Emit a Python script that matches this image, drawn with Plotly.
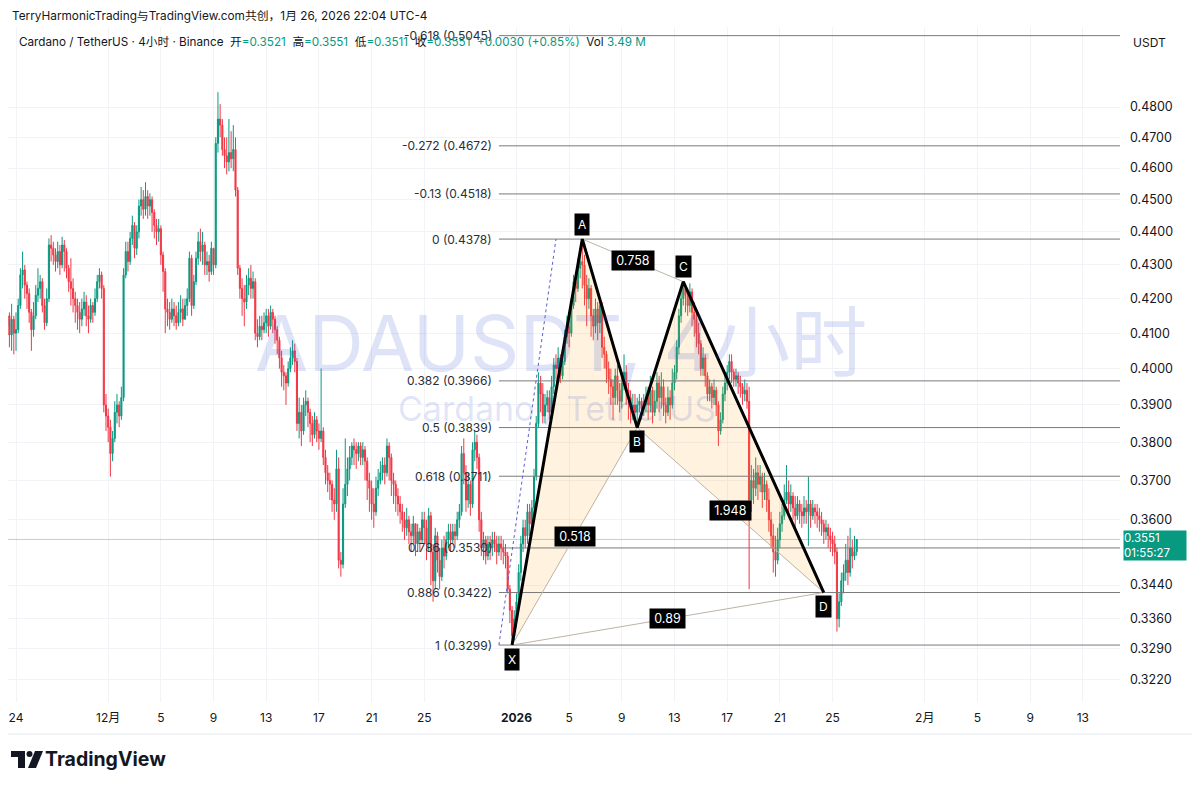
import math
import pandas as pd
import plotly.graph_objects as go

# ---------------- DATA ----------------
# ADA/USDT 4h candles, Nov 23 08:00 -> Jan 26 20:00 (UTC-4); prices in units of 1e-4
candle_start = "2025-11-23 08:00"
first_open_e4 = 4120

close_e4 = [
    4150, 4095, 4140, 4100,
    4110, 4180, 4270, 4285, 4240, 4215,
    4160, 4110, 4150, 4210, 4230, 4250,
    4180, 4130, 4200, 4360, 4350, 4330,
    4310, 4340, 4300, 4360, 4340, 4290,
    4250, 4230, 4200, 4180, 4160, 4140,
    4170, 4190, 4150, 4140, 4180, 4160,
    4200, 4250, 4270, 4230, 3900, 3870,
    3840, 3770, 3810, 3880, 3900, 3870,
    3920, 4270, 4340, 4310, 4380, 4420,
    4350, 4400, 4480, 4500, 4470, 4510,
    4480, 4500, 4460, 4420, 4400, 4410,
    4330, 4280, 4170, 4160, 4140, 4170,
    4150, 4130, 4160, 4170, 4140, 4180,
    4200, 4320, 4180, 4250, 4320, 4370,
    4340, 4360, 4300, 4310, 4280, 4350,
    4300, 4680, 4760, 4740, 4660, 4640,
    4620, 4650, 4630, 4660, 4530, 4290,
    4230, 4200, 4190, 4240, 4260, 4230,
    4250, 4100, 4090, 4120, 4110, 4130,
    4150, 4120, 4160, 4140, 4110, 4080,
    4030, 3990, 3980, 3960, 4000, 4030,
    4050, 4020, 3850, 3880, 3830, 3900,
    3910, 3880, 3850, 3820, 3860, 3830,
    3810, 3830, 3760, 3720, 3700, 3690,
    3650, 3640, 3730, 3500, 3490, 3640,
    3690, 3730, 3760, 3790, 3780, 3770,
    3790, 3760, 3780, 3750, 3700, 3680,
    3640, 3620, 3680, 3700, 3720, 3740,
    3720, 3790, 3760, 3700, 3690, 3660,
    3640, 3620, 3600, 3580, 3600, 3570,
    3560, 3590, 3540, 3570, 3550, 3600,
    3580, 3540, 3610, 3520, 3450, 3560,
    3500, 3460, 3530, 3510, 3550, 3570,
    3550, 3570, 3560, 3600, 3620, 3770,
    3720, 3650, 3690, 3640, 3780, 3800,
    3760, 3600, 3530, 3550, 3510, 3540,
    3530, 3550, 3540, 3520, 3540, 3530,
    3520, 3510, 3430, 3380, 3320, 3360,
    3400, 3470, 3540, 3580, 3560, 3620,
    3590, 3630, 3710, 3850, 3960, 3930,
    3870, 3900, 3920, 3880, 3950, 4010,
    4000, 4030, 3980, 4020, 4090, 4120,
    4100, 4180, 4250, 4230, 4290, 4310,
    4300, 4240, 4200, 4230, 4150, 4120,
    4170, 4130, 4180, 4060, 4040, 4000,
    3970, 3950, 3920, 3980, 3940, 3910,
    3960, 3990, 3940, 3920, 3890, 3900,
    3880, 3900, 3910, 3890, 3900, 3920,
    3900, 3940, 3880, 3910, 3960, 3920,
    3950, 3900, 3880, 3920, 3900, 3960,
    3990, 4060, 4150, 4200, 4230, 4210,
    4180, 4220, 4160, 4140, 4100, 4070,
    4000, 4030, 3980, 3930, 3950, 3920,
    3940, 3900, 3830, 3860, 3930, 3960,
    3990, 4020, 3990, 3970, 3980, 3960,
    3950, 3930, 3940, 3910, 3650, 3700,
    3680, 3720, 3690, 3710, 3670, 3690,
    3650, 3600, 3560, 3520, 3500, 3550,
    3590, 3610, 3650, 3670, 3640, 3660,
    3630, 3610, 3640, 3620, 3610, 3630,
    3620, 3640, 3610, 3630, 3620, 3610,
    3600, 3590, 3570, 3580, 3560, 3550,
    3540, 3520, 3360, 3400, 3450, 3470,
    3500, 3470, 3530, 3510, 3521, 3551,
]

high_e4 = [
    4175, 4160, 4185, 4150,
    4160, 4200, 4290, 4340, 4300, 4250,
    4230, 4170, 4190, 4240, 4290, 4270,
    4260, 4200, 4230, 4380, 4390, 4370,
    4350, 4370, 4360, 4385, 4375, 4350,
    4300, 4320, 4260, 4220, 4200, 4190,
    4200, 4220, 4210, 4180, 4200, 4190,
    4230, 4270, 4290, 4280, 4240, 3930,
    3890, 3860, 3830, 3910, 3930, 3910,
    3950, 4290, 4370, 4370, 4400, 4450,
    4430, 4420, 4500, 4540, 4530, 4555,
    4530, 4520, 4510, 4470, 4440, 4440,
    4420, 4340, 4290, 4200, 4190, 4200,
    4190, 4180, 4190, 4210, 4200, 4200,
    4230, 4340, 4330, 4270, 4340, 4400,
    4410, 4400, 4370, 4340, 4330, 4370,
    4350, 4700, 4850, 4810, 4760, 4700,
    4700, 4760, 4720, 4740, 4700, 4540,
    4300, 4260, 4240, 4270, 4290, 4300,
    4280, 4260, 4140, 4150, 4150, 4160,
    4170, 4170, 4180, 4170, 4150, 4120,
    4090, 4050, 4010, 3990, 4020, 4060,
    4080, 4070, 4030, 3920, 3900, 3920,
    3940, 3920, 3890, 3870, 3880, 3870,
    3850, 4000, 3840, 3780, 3740, 3720,
    3700, 3680, 3780, 3760, 3520, 3680,
    3810, 3760, 3790, 3800, 3810, 3800,
    3800, 3800, 3800, 3790, 3760, 3720,
    3700, 3680, 3710, 3730, 3750, 3760,
    3760, 3810, 3800, 3770, 3720, 3700,
    3680, 3660, 3640, 3620, 3630, 3610,
    3590, 3610, 3590, 3590, 3580, 3620,
    3620, 3600, 3630, 3620, 3540, 3580,
    3570, 3530, 3550, 3560, 3570, 3590,
    3590, 3590, 3590, 3620, 3640, 3790,
    3810, 3740, 3720, 3700, 3800, 3830,
    3820, 3770, 3620, 3570, 3560, 3560,
    3560, 3570, 3570, 3560, 3560, 3560,
    3550, 3540, 3520, 3440, 3390, 3380,
    3420, 3490, 3560, 3600, 3600, 3640,
    3640, 3650, 3730, 3870, 3990, 3980,
    3960, 3930, 3940, 3940, 3980, 4030,
    4040, 4060, 4040, 4050, 4110, 4150,
    4150, 4200, 4270, 4280, 4320, 4350,
    4378, 4330, 4270, 4260, 4240, 4170,
    4200, 4190, 4200, 4190, 4090, 4050,
    4020, 4000, 3970, 4000, 4010, 3960,
    3990, 4040, 4010, 3960, 3940, 3930,
    3930, 3920, 3930, 3920, 3930, 3950,
    3950, 3980, 3950, 3940, 3990, 3980,
    3990, 3970, 3920, 3950, 3940, 4000,
    4010, 4080, 4170, 4230, 4250, 4240,
    4230, 4245, 4230, 4190, 4170, 4130,
    4080, 4060, 4040, 3990, 3970, 3960,
    3970, 3950, 3910, 3880, 3950, 3980,
    4010, 4040, 4040, 4000, 4000, 3990,
    3980, 3960, 3970, 3960, 3950, 3740,
    3730, 3760, 3740, 3740, 3720, 3720,
    3700, 3680, 3620, 3590, 3560, 3580,
    3620, 3640, 3690, 3740, 3700, 3690,
    3670, 3660, 3660, 3650, 3640, 3660,
    3650, 3710, 3650, 3650, 3640, 3640,
    3630, 3620, 3600, 3600, 3590, 3580,
    3570, 3560, 3530, 3420, 3470, 3490,
    3540, 3560, 3580, 3550, 3560, 3551,
]

low_e4 = [
    4080, 4060, 4050, 4040,
    4050, 4100, 4170, 4230, 4200, 4170,
    4130, 4050, 4090, 4140, 4190, 4200,
    4160, 4110, 4120, 4190, 4310, 4300,
    4280, 4290, 4270, 4290, 4280, 4260,
    4220, 4180, 4160, 4130, 4110, 4100,
    4120, 4150, 4120, 4100, 4130, 4130,
    4150, 4190, 4230, 4200, 3880, 3830,
    3800, 3710, 3750, 3800, 3850, 3840,
    3860, 3910, 4260, 4280, 4300, 4360,
    4320, 4330, 4380, 4450, 4440, 4450,
    4440, 4450, 4400, 4380, 4360, 4370,
    4300, 4220, 4100, 4120, 4110, 4130,
    4120, 4110, 4120, 4130, 4120, 4140,
    4150, 4190, 4150, 4170, 4240, 4300,
    4310, 4300, 4270, 4270, 4250, 4270,
    4270, 4290, 4650, 4700, 4640, 4600,
    4580, 4590, 4600, 4590, 4510, 4270,
    4200, 4150, 4120, 4170, 4210, 4200,
    4200, 4080, 4060, 4080, 4080, 4100,
    4100, 4090, 4110, 4100, 4070, 4040,
    4000, 3950, 3940, 3900, 3950, 3990,
    4010, 3990, 3830, 3810, 3790, 3820,
    3870, 3840, 3800, 3790, 3810, 3800,
    3780, 3800, 3740, 3690, 3670, 3650,
    3620, 3600, 3620, 3480, 3460, 3480,
    3630, 3660, 3700, 3740, 3740, 3730,
    3750, 3740, 3740, 3700, 3650, 3620,
    3600, 3580, 3610, 3660, 3690, 3700,
    3690, 3710, 3700, 3660, 3640, 3620,
    3610, 3590, 3570, 3550, 3560, 3540,
    3520, 3540, 3510, 3520, 3520, 3540,
    3540, 3500, 3520, 3440, 3400, 3430,
    3470, 3430, 3450, 3480, 3500, 3530,
    3520, 3540, 3530, 3550, 3580, 3610,
    3690, 3620, 3630, 3610, 3630, 3750,
    3730, 3570, 3510, 3500, 3490, 3500,
    3500, 3510, 3520, 3490, 3510, 3500,
    3490, 3480, 3420, 3350, 3299, 3310,
    3340, 3380, 3450, 3520, 3530, 3540,
    3560, 3570, 3600, 3700, 3840, 3880,
    3850, 3850, 3880, 3860, 3870, 3930,
    3970, 3990, 3960, 3970, 4010, 4070,
    4060, 4090, 4170, 4190, 4220, 4260,
    4230, 4180, 4120, 4170, 4090, 4080,
    4100, 4080, 4100, 4030, 4000, 3960,
    3930, 3900, 3860, 3900, 3900, 3880,
    3890, 3940, 3900, 3860, 3850, 3860,
    3860, 3839, 3880, 3860, 3870, 3880,
    3860, 3880, 3850, 3870, 3890, 3880,
    3890, 3870, 3850, 3870, 3860, 3890,
    3940, 3970, 4040, 4130, 4180, 4160,
    4150, 4160, 4120, 4090, 4060, 4040,
    3980, 3980, 3950, 3910, 3910, 3890,
    3900, 3870, 3790, 3820, 3850, 3910,
    3940, 3970, 3960, 3950, 3950, 3930,
    3920, 3900, 3910, 3890, 3430, 3620,
    3640, 3660, 3650, 3670, 3630, 3650,
    3620, 3570, 3530, 3470, 3460, 3490,
    3530, 3570, 3600, 3640, 3610, 3620,
    3600, 3580, 3600, 3590, 3580, 3590,
    3590, 3535, 3580, 3600, 3590, 3580,
    3570, 3560, 3540, 3550, 3530, 3520,
    3510, 3490, 3330, 3340, 3390, 3420,
    3450, 3440, 3460, 3480, 3500, 3511,
]

# Fibonacci retracement (drawn from X to A)
fib_levels = ["-0.618", "-0.272", "-0.13", "0", "0.382", "0.5", "0.618", "0.786", "0.886", "1"]
fib_prices = [0.5045, 0.4672, 0.4518, 0.4378, 0.3966, 0.3839, 0.3711, 0.3530, 0.3422, 0.3299]
fib_start = "2025-12-30 16:00"
fib_trend_times = ["2025-12-30 16:00", "2026-01-04 00:00"]
fib_trend_prices = [0.3299, 0.4378]

# XABCD harmonic pattern
pattern_labels = ["X", "A", "B", "C", "D"]
pattern_times = ["2025-12-31 16:00", "2026-01-06 00:00", "2026-01-10 04:00",
                 "2026-01-13 16:00", "2026-01-24 08:00"]
pattern_prices = [0.3299, 0.4378, 0.3839, 0.4250, 0.3422]
ratio_pairs = [("X", "B"), ("A", "C"), ("B", "D"), ("X", "D")]
ratio_labels = ["0.518", "0.758", "1.948", "0.89"]

# Axes
x_range = ["2025-11-23 09:25", "2026-02-15 19:50"]
y_range = [0.31706, 0.50755]
date_ticks = ["2025-11-24", "2025-12-01", "2025-12-05", "2025-12-09", "2025-12-13",
              "2025-12-17", "2025-12-21", "2025-12-25", "2026-01-01", "2026-01-05",
              "2026-01-09", "2026-01-13", "2026-01-17", "2026-01-21", "2026-01-25",
              "2026-02-01", "2026-02-05", "2026-02-09", "2026-02-13"]
date_tick_text = ["24", "12月", "5", "9", "13", "17", "21", "25", "<b>2026</b>", "5",
                  "9", "13", "17", "21", "25", "2月", "5", "9", "13"]
price_ticks = [0.48, 0.47, 0.46, 0.45, 0.44, 0.43, 0.42, 0.41, 0.40, 0.39, 0.38,
               0.37, 0.36, 0.344, 0.336, 0.329, 0.322]

last_price = 0.3551
countdown = "01:55:27"

# ---------------- BUILD ----------------
UP = "#089981"
DOWN = "#f23645"
FONT = "Inter, 'Noto Sans CJK SC', sans-serif"
OFF = 8                      # page body margin of the html page
W, H = 1200 - OFF, 788 - OFF
ML, MR, MT, MB = 0, 80, 27 - OFF, 86
PW, PH = W - ML - MR, H - MT - MB


def px(xp):                  # page pixel x -> paper
    return (xp - OFF - ML) / PW


def py(yp):                  # page pixel y -> paper
    return (H - MB - (yp - OFF)) / PH


times = pd.date_range(candle_start, periods=len(close_e4), freq="4h")
closes = [c / 1e4 for c in close_e4]
opens = [first_open_e4 / 1e4] + closes[:-1]
highs = [max(h / 1e4, o, c) for h, o, c in zip(high_e4, opens, closes)]
lows = [min(l / 1e4, o, c) for l, o, c in zip(low_e4, opens, closes)]

fig = go.Figure()

fig.add_trace(go.Candlestick(
    x=times, open=opens, high=highs, low=lows, close=closes,
    increasing=dict(line=dict(color=UP, width=1), fillcolor=UP),
    decreasing=dict(line=dict(color=DOWN, width=1), fillcolor=DOWN),
    whiskerwidth=0, hoverinfo="skip", showlegend=False,
))

pt = dict(zip(pattern_labels, zip(pd.to_datetime(pattern_times), pattern_prices)))

# pattern fills (XAB and BCD)
for tri in (("X", "A", "B"), ("B", "C", "D")):
    xs = [pt[k][0] for k in tri] + [pt[tri[0]][0]]
    ys = [pt[k][1] for k in tri] + [pt[tri[0]][1]]
    fig.add_trace(go.Scatter(x=xs, y=ys, mode="lines", fill="toself",
                             fillcolor="rgba(255,152,0,0.13)", line=dict(width=0),
                             hoverinfo="skip", showlegend=False))

# current price line
fig.add_trace(go.Scatter(x=x_range, y=[last_price, last_price], mode="lines",
                         line=dict(color="rgba(8,153,129,0.35)", width=1),
                         hoverinfo="skip", showlegend=False))

# fib lines
for p in fib_prices:
    fig.add_trace(go.Scatter(x=[fib_start, x_range[1]], y=[p, p], mode="lines",
                             line=dict(color="#7a7a7a", width=1),
                             hoverinfo="skip", showlegend=False))
fig.add_trace(go.Scatter(x=fib_trend_times, y=fib_trend_prices, mode="lines",
                         line=dict(color="#5c5cd6", width=1, dash="dot"),
                         hoverinfo="skip", showlegend=False))

# thin ratio lines
for a, b in ratio_pairs:
    fig.add_trace(go.Scatter(x=[pt[a][0], pt[b][0]], y=[pt[a][1], pt[b][1]], mode="lines",
                             line=dict(color="#bdb3a6", width=1),
                             hoverinfo="skip", showlegend=False))

# main XABCD path
fig.add_trace(go.Scatter(x=[pt[k][0] for k in pattern_labels],
                         y=[pt[k][1] for k in pattern_labels], mode="lines",
                         line=dict(color="#000000", width=3),
                         hoverinfo="skip", showlegend=False))

ann = []
# fib labels
for lvl, p in zip(fib_levels, fib_prices):
    ann.append(dict(x=fib_start, y=math.log10(p), xref="x", yref="y",
                    text=f"{lvl} ({p:.4f})", showarrow=False, xanchor="right", yanchor="middle",
                    xshift=-5, font=dict(size=12, color="#2a2e39", family=FONT)))

# ratio labels
for (a, b), lab in zip(ratio_pairs, ratio_labels):
    ta, pa = pt[a]
    tb, pb = pt[b]
    ann.append(dict(x=ta + (tb - ta) / 2, y=math.log10(math.sqrt(pa * pb)), xref="x", yref="y",
                    text=f"\u2009{lab}\u2009", showarrow=False, bgcolor="#000000", borderpad=2,
                    font=dict(size=12.5, color="white", family=FONT)))

# point labels
above = {"A", "C"}
for k in pattern_labels:
    t, p = pt[k]
    ann.append(dict(x=t, y=math.log10(p), xref="x", yref="y", text=k, showarrow=False,
                    bgcolor="#000000", borderpad=3, yshift=15 if k in above else -14,
                    font=dict(size=12, color="white", family=FONT)))

# watermark
ann.append(dict(x=px(561), y=py(343), xref="paper", yref="paper", text="ADAUSDT, 4小时",
                xanchor="center", yanchor="middle", showarrow=False,
                font=dict(size=77, color="rgba(60,90,210,0.17)", family=FONT)))
ann.append(dict(x=px(557), y=py(408), xref="paper", yref="paper", text="Cardano / TetherUS",
                xanchor="center", yanchor="middle", showarrow=False,
                font=dict(size=34, color="rgba(60,90,210,0.17)", family=FONT)))

# header
ann.append(dict(x=px(10), y=py(16), xref="paper", yref="paper", xanchor="left", yanchor="middle",
                text="TerryHarmonicTrading与TradingView.com共创，1月 26, 2026 22:04 UTC-4",
                showarrow=False, font=dict(size=11.8, color="#131722", family=FONT)))
g = lambda s: f"<span style='color:{UP}'>{s}</span>"
legend_txt = ("Cardano / TetherUS · 4小时 · Binance\u00a0\u00a0开" + g("=0.3521") +
              "\u00a0\u00a0高" + g("=0.3551") + "\u00a0\u00a0低" + g("=0.3511") +
              "\u00a0\u00a0收" + g("=0.3551") + "\u00a0\u00a0" + g("+0.0030 (+0.85%)") +
              "\u00a0\u00a0Vol\u00a0" + g("3.49 M"))
ann.append(dict(x=px(17), y=py(42), xref="paper", yref="paper", xanchor="left", yanchor="middle",
                text=legend_txt, showarrow=False,
                font=dict(size=11.7, color="#131722", family=FONT)))
ann.append(dict(x=px(1131), y=py(42), xref="paper", yref="paper", xanchor="left", yanchor="middle",
                text="USDT", showarrow=False, font=dict(size=12, color="#131722", family=FONT)))

# last price box
ann.append(dict(x=1, y=math.log10(last_price), xref="paper", yref="y", xanchor="left",
                yanchor="top", yshift=9, xshift=3, align="left", width=62,
                text=f"{last_price:.4f}<br>{countdown}", showarrow=False, bgcolor=UP,
                borderpad=0, font=dict(size=11.5, color="white", family=FONT)))

# TradingView logo text
ann.append(dict(x=px(43), y=py(759), xref="paper", yref="paper", xanchor="left", yanchor="middle",
                text="<b>TradingView</b>", showarrow=False,
                font=dict(size=19.5, color="#131722", family=FONT)))

shapes = [
    dict(type="rect", xref="paper", yref="paper", x0=px(11), x1=px(25), y0=py(751), y1=py(757),
         fillcolor="#131722", line=dict(width=0)),
    dict(type="rect", xref="paper", yref="paper", x0=px(18), x1=px(25), y0=py(751), y1=py(768),
         fillcolor="#131722", line=dict(width=0)),
    dict(type="circle", xref="paper", yref="paper", x0=px(26.5), x1=px(32.5), y0=py(751), y1=py(757),
         fillcolor="#131722", line=dict(width=0)),
    dict(type="path", xref="paper", yref="paper",
         path=f"M {px(35)},{py(751)} L {px(43)},{py(751)} L {px(36)},{py(768)} L {px(28)},{py(768)} Z",
         fillcolor="#131722", line=dict(width=0)),
    dict(type="line", xref="paper", yref="paper", x0=px(8), x1=px(1192), y0=py(734), y1=py(734),
         line=dict(color="#e6e8ee", width=1)),
]

fig.update_layout(
    width=W, height=H, margin=dict(l=ML, r=MR, t=MT, b=MB),
    paper_bgcolor="white", plot_bgcolor="white", showlegend=False,
    font=dict(family=FONT, size=12, color="#131722"),
    annotations=ann, shapes=shapes,
)
fig.update_xaxes(type="date", range=x_range, rangeslider_visible=False,
                 tickvals=pd.to_datetime(date_ticks), ticktext=date_tick_text,
                 showgrid=True, gridcolor="#f2f3f7", zeroline=False, showline=False,
                 ticks="", ticklabelstandoff=7, tickfont=dict(size=12, color="#131722"))
fig.update_yaxes(type="log", range=[math.log10(y_range[0]), math.log10(y_range[1])],
                 side="right", tickvals=price_ticks, ticktext=[f"{v:.4f}" for v in price_ticks],
                 showgrid=True, gridcolor="#f2f3f7", zeroline=False, showline=False,
                 ticks="", ticklabelstandoff=9, tickfont=dict(size=12.5, color="#131722"))

fig.write_html("out.html")
